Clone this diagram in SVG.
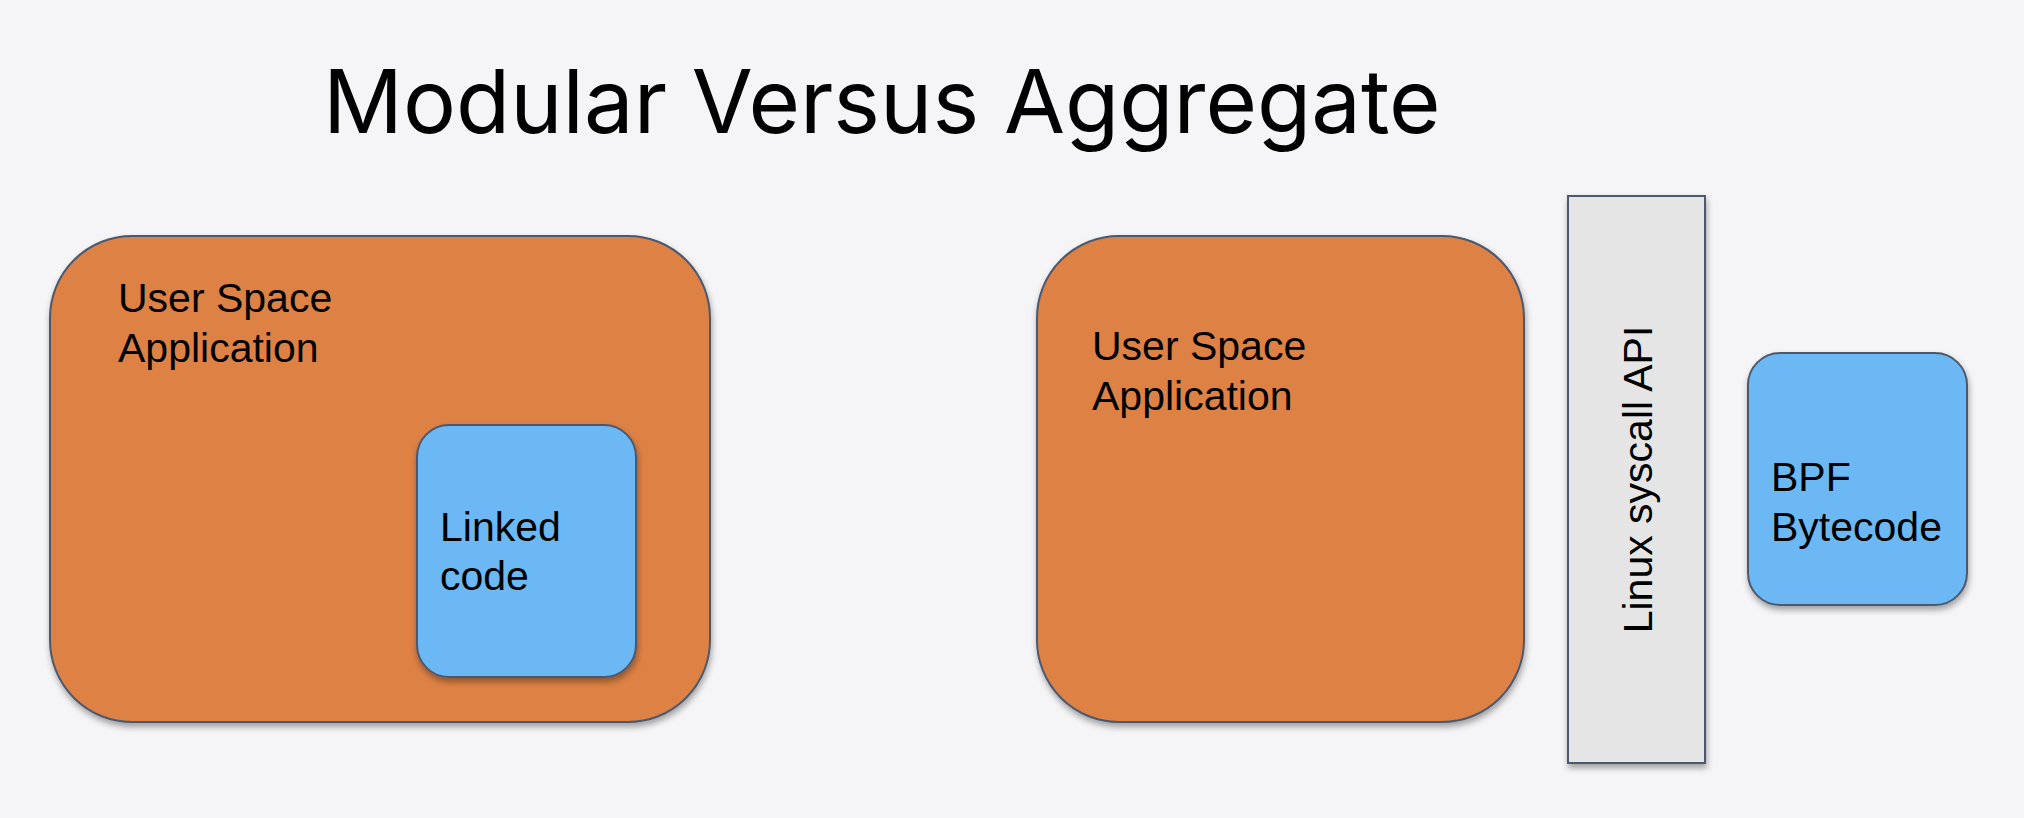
<svg xmlns="http://www.w3.org/2000/svg" width="2024" height="818" viewBox="0 0 2024 818">
  <style>
    .title { font-family: Inter, "Liberation Sans", sans-serif; font-size: 88.5px; fill: #000; }
    .lbl { font-family: "Liberation Sans", Arial, sans-serif; font-size: 41px; fill: #000; }
    .app { fill: #DE8145; stroke: #4B596E; stroke-width: 2; }
    .code { fill: #6CB8F4; stroke: #4B596E; stroke-width: 2; }
    .api { fill: #E5E5E5; stroke: #4B596E; stroke-width: 2; }
  </style>
  <defs>
    <filter id="shadow" x="-10%" y="-10%" width="120%" height="120%">
      <feDropShadow dx="1" dy="4" stdDeviation="3" flood-color="#000" flood-opacity="0.35"/>
    </filter>
  </defs>
  <rect width="2024" height="818" fill="#F5F5F7"/>
  <text class="title" x="323" y="133">Modular Versus Aggregate</text>

  <g id="modular-app">
    <rect class="app" x="50" y="236" width="660" height="486" rx="82" ry="82" filter="url(#shadow)"/>
    <text class="lbl" x="118" y="312">User Space</text>
    <text class="lbl" x="118" y="362">Application</text>
  </g>
  <g id="linked-code">
    <rect class="code" x="417" y="425" width="219" height="252" rx="32" ry="32" filter="url(#shadow)"/>
    <text class="lbl" x="440" y="541">Linked</text>
    <text class="lbl" x="440" y="590">code</text>
  </g>

  <g id="aggregate-app">
    <rect class="app" x="1037" y="236" width="487" height="486" rx="82" ry="82" filter="url(#shadow)"/>
    <text class="lbl" x="1092" y="360">User Space</text>
    <text class="lbl" x="1092" y="410">Application</text>
  </g>
  <g id="syscall-api">
    <rect class="api" x="1568" y="196" width="137" height="567" filter="url(#shadow)"/>
    <text class="lbl" x="1652" y="479.5" text-anchor="middle" transform="rotate(-90 1652 479.5)">Linux syscall API</text>
  </g>
  <g id="bpf-bytecode">
    <rect class="code" x="1748" y="353" width="219" height="252" rx="32" ry="32" filter="url(#shadow)"/>
    <text class="lbl" x="1771" y="491">BPF</text>
    <text class="lbl" x="1771" y="541">Bytecode</text>
  </g>
  <g id="connectors"/>
</svg>
